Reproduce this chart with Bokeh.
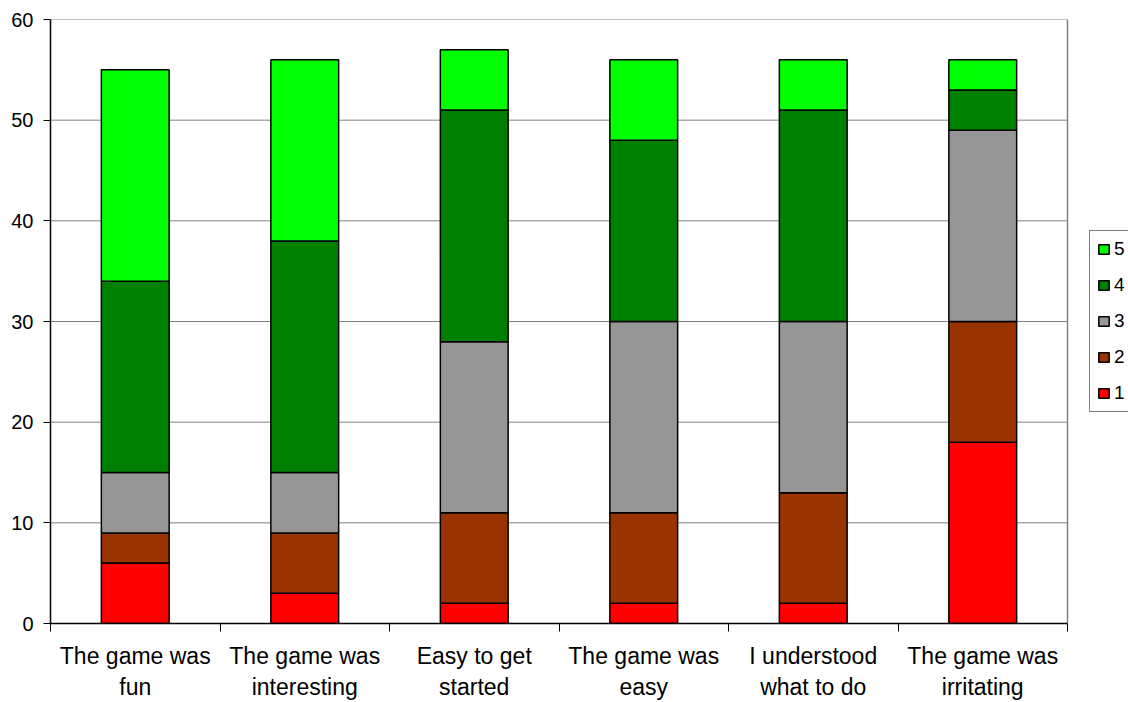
from bokeh.plotting import figure
from bokeh.models import (ColumnDataSource, Range1d, FixedTicker, Legend, LegendItem)
from bokeh.embed import file_html
from bokeh.resources import INLINE

# Survey statements and response counts per rating (1 = lowest, 5 = highest)
statements = ["The game was\nfun", "The game was\ninteresting", "Easy to get\nstarted",
              "The game was\neasy", "I understood\nwhat to do", "The game was\nirritating"]
rating_1 = [6, 3, 2, 2, 2, 18]
rating_2 = [3, 6, 9, 9, 11, 12]
rating_3 = [6, 6, 17, 19, 17, 19]
rating_4 = [19, 23, 23, 18, 21, 4]
rating_5 = [21, 18, 6, 8, 5, 3]
ratings = ["1", "2", "3", "4", "5"]
y_ticks = [0, 10, 20, 30, 40, 50, 60]

colors = ["#FF0000", "#993300", "#969696", "#008000", "#00FF00"]
FONT = "Liberation Sans"
GRID = "#808080"

n = len(statements)
idx = list(range(n))
source = ColumnDataSource(dict(x=idx, r1=rating_1, r2=rating_2, r3=rating_3,
                               r4=rating_4, r5=rating_5))

# plotting area for the bars spans 1017 px; extra room on the right holds the legend
px_per_cat = 1017 / n
x_end = n - 0.5 + 61 / px_per_cat

p = figure(width=1128, height=702, output_backend="svg", toolbar_location=None,
           x_range=Range1d(-0.5, x_end), y_range=Range1d(0, 60),
           min_border_left=50, min_border_right=0, min_border_top=19,
           min_border_bottom=78)

p.outline_line_color = None
p.background_fill_color = "white"
p.border_fill_color = "white"
p.xgrid.visible = False
p.ygrid.visible = False

# horizontal gridlines (the one at 60 doubles as the top border) and right border
grid_src = ColumnDataSource(dict(y=y_ticks[1:], x0=[-0.5] * (len(y_ticks) - 1),
                                 x1=[n - 0.5] * (len(y_ticks) - 1)))
p.segment(x0="x0", y0="y", x1="x1", y1="y", source=grid_src,
          line_color=GRID, line_width=1)
p.segment(x0=[n - 0.5], y0=[0], x1=[n - 0.5], y1=[y_ticks[-1]],
          line_color=GRID, line_width=1.5)

renderers = p.vbar_stack(["r1", "r2", "r3", "r4", "r5"], x="x", width=0.4,
                         source=source, fill_color=colors, line_color="black",
                         line_width=1.5)

# y axis
p.yaxis.ticker = FixedTicker(ticks=y_ticks, minor_ticks=[])
p.yaxis.axis_line_color = "black"
p.yaxis.axis_line_width = 1.5
p.yaxis.major_tick_out = 7
p.yaxis.major_tick_in = 0
p.yaxis.major_tick_line_color = "black"
p.yaxis.major_label_text_font = FONT
p.yaxis.major_label_text_font_size = "20px"
p.yaxis.major_label_text_color = "black"
p.yaxis.major_label_standoff = 10

# x axis: labels at bar centers, tick marks at category boundaries
boundaries = [i - 0.5 for i in range(n + 1)]
p.xaxis.bounds = (-0.5, n - 0.5)
p.xaxis.ticker = FixedTicker(ticks=idx, minor_ticks=boundaries)
p.xaxis.major_label_overrides = {i: s for i, s in enumerate(statements)}
p.xaxis.major_tick_line_color = None
p.xaxis.minor_tick_line_color = "black"
p.xaxis.minor_tick_out = 8
p.xaxis.minor_tick_in = 0
p.xaxis.axis_line_color = "black"
p.xaxis.axis_line_width = 1.5
p.xaxis.major_label_text_font = FONT
p.xaxis.major_label_text_font_size = "23px"
p.xaxis.major_label_text_color = "black"
p.xaxis.major_label_standoff = 11

items = [LegendItem(label=r, renderers=[rend]) for r, rend in zip(ratings, renderers)]
legend = Legend(items=list(reversed(items)), location=(1039, 211),
                orientation="vertical", border_line_color="black",
                border_line_width=1, background_fill_color="white",
                label_text_font=FONT, label_text_font_size="19px",
                label_text_color="black", glyph_width=13, glyph_height=12,
                label_height=21, spacing=14, padding=7, margin=0,
                label_standoff=4)
p.add_layout(legend)

open("out.html", "w").write(file_html(p, INLINE))
